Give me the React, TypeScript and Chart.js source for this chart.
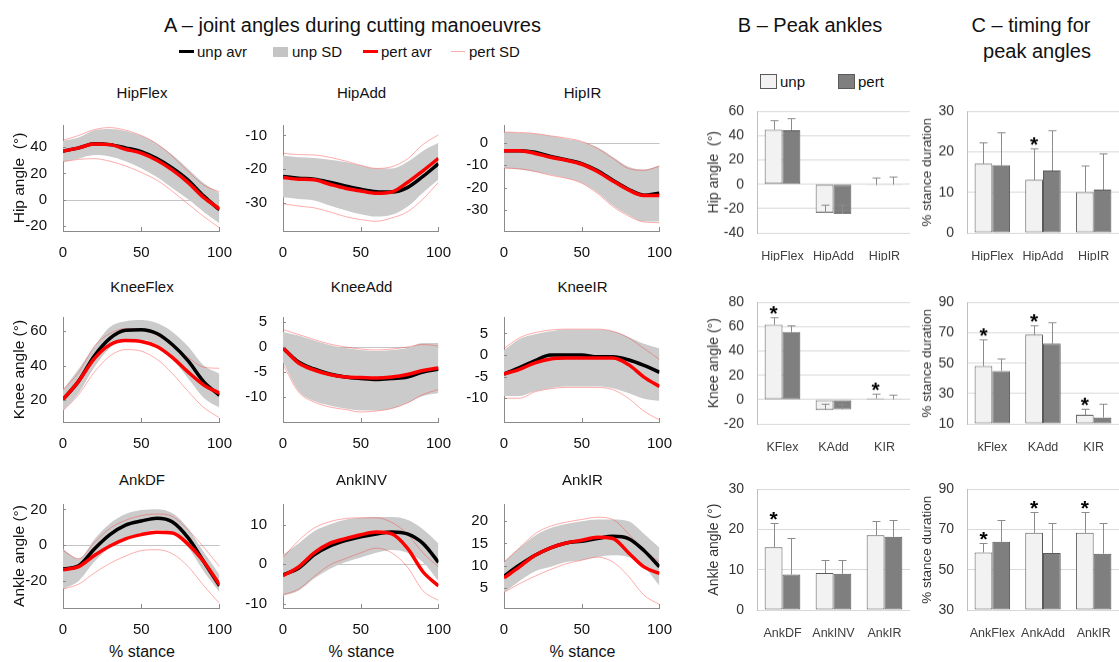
import React, { useEffect, useRef } from 'react';
import { Chart, registerables } from 'chart.js';
Chart.register(...registerables);

const FONT = "'Liberation Sans', Arial, Helvetica, sans-serif";

// ---------------- Panel A data (joint angle curves, % stance) ----------------
const STANCE = [0, 10, 20, 30, 40, 50, 60, 70, 80, 90, 100];
const STANCE_TICKS = [0, 50, 100];

const HIPFLEX_UNP = [37, 39.5, 42.7, 42, 39.5, 36.6, 31.3, 24, 14.8, 2.7, -7.8];
const HIPFLEX_UNP_HI = [45, 47.5, 53, 54, 52.4, 48.7, 42.7, 34, 23.3, 12.4, 5];
const HIPFLEX_UNP_LO = [29, 31.3, 34, 33, 29.3, 24, 17.2, 8.7, 0.2, -9.5, -18];
const HIPFLEX_PERT = [37, 39.5, 42.5, 42, 38.5, 35.5, 30, 22.5, 13, 1.5, -7];
const HIPFLEX_PERT_HI = [45.3, 49, 53.5, 55, 53, 49, 42.7, 33, 21.5, 11, 6];
const HIPFLEX_PERT_LO = [29, 30.7, 31.3, 29.3, 25.7, 20.8, 14.8, 6.3, -3.4, -13, -21.6];
const HIPFLEX_TICKS = [-20, 0, 20, 40];

const HIPADD_UNP = [-22.2, -22.7, -23, -23.9, -25, -26, -26.7, -26.8, -25.5, -22.2, -18.4];
const HIPADD_UNP_HI = [-16, -16.5, -16.7, -17.2, -17.9, -18.9, -19.8, -19.8, -17.9, -14.6, -12.2];
const HIPADD_UNP_LO = [-28.4, -28.9, -29.3, -30.8, -32.2, -33.4, -34.1, -33.6, -31.2, -27, -23.1];
const HIPADD_PERT = [-22.5, -23, -23.2, -24.5, -25.7, -26.5, -27.2, -26.8, -24, -20.5, -16.8];
const HIPADD_PERT_HI = [-15.3, -15.7, -15.8, -16.5, -17.6, -18.9, -19.8, -19.3, -17, -12.7, -9.8];
const HIPADD_PERT_LO = [-30.3, -31, -31.5, -32.7, -34.1, -35, -35.5, -34.5, -32.7, -28.9, -23.9];
const HIPADD_TICKS = [-30, -20, -10];

const HIPIR_UNP = [-3.6, -3.6, -4.3, -6.1, -7.6, -9.3, -12.4, -16.7, -20.7, -23.3, -22.4];
const HIPIR_UNP_HI = [4.6, 4.3, 3.9, 2.9, 1.7, 0.4, -2.1, -6.4, -10.7, -11.9, -10];
const HIPIR_UNP_LO = [-11.4, -11.9, -12.9, -14.3, -15.7, -17.9, -22.1, -27.9, -32.1, -35, -35];
const HIPIR_PERT = [-3.6, -3.6, -4.8, -6.5, -7.8, -9.6, -12.8, -17, -21, -23.5, -23.5];
const HIPIR_PERT_HI = [4.6, 4.5, 4, 3, 2, 0.5, -2.5, -7, -11.5, -12.3, -10.5];
const HIPIR_PERT_LO = [-11.3, -11.6, -12.8, -14.5, -15.8, -18, -22.5, -28.3, -32.5, -35.2, -35.5];
const HIPIR_TICKS = [-30, -20, -10, 0];

const KNEEFLEX_UNP = [20.4, 31, 45.5, 55.7, 60.4, 60.7, 58.5, 52, 42.7, 30.6, 22.8];
const KNEEFLEX_UNP_HI = [26, 38, 51, 62.2, 65.6, 66.3, 64.5, 59.4, 51, 40, 35.3];
const KNEEFLEX_UNP_LO = [13.9, 24, 39, 50.1, 54.8, 54.8, 52, 43.6, 32.5, 21.3, 15.7];
const KNEEFLEX_PERT = [20.4, 31, 44, 52, 54.4, 53.9, 51, 44.6, 36.2, 28.7, 24];
const KNEEFLEX_PERT_HI = [26, 36, 51, 58.5, 61.3, 60.4, 57.6, 51, 44.6, 39, 38.4];
const KNEEFLEX_PERT_LO = [13.9, 23.2, 36.2, 45.5, 49.2, 48.3, 43.6, 35.3, 25, 15.7, 9.8];
const KNEEFLEX_TICKS = [20, 40, 60];

const KNEEADD_UNP = [-0.2, -3, -4.4, -5.4, -6, -6.3, -6.5, -6.3, -6, -5, -4.4];
const KNEEADD_UNP_HI = [3, 2.3, 1.3, 0.4, -0.2, -0.6, -0.8, -0.6, -0.2, 0.8, 0.8];
const KNEEADD_UNP_LO = [-3, -8.8, -10.8, -11.7, -12.3, -12.7, -12.7, -12.3, -11.2, -9.8, -9.2];
const KNEEADD_PERT = [-0.2, -3.2, -4.6, -5.5, -6, -6.1, -6.2, -6, -5.5, -4.7, -4.2];
const KNEEADD_PERT_HI = [3.5, 2.5, 1.5, 0.6, 0, -0.4, -0.6, -0.4, 0, 0.5, 0.2];
const KNEEADD_PERT_LO = [-3.5, -9, -11, -12, -12.5, -13, -12.8, -12.3, -11.2, -9.5, -8.5];
const KNEEADD_TICKS = [-10, -5, 0, 5];

const KNEEIR_UNP = [-4.4, -2.9, -1.3, 0, 0, 0, -0.4, -0.4, -1.1, -2.4, -4];
const KNEEIR_UNP_HI = [1.1, 3.7, 4.8, 5.5, 5.9, 5.9, 5.9, 5.5, 4.2, 2.6, 1.5];
const KNEEIR_UNP_LO = [-9.5, -9.5, -8.4, -7.7, -7.3, -7.3, -7.3, -7.7, -8.8, -10.1, -10.6];
const KNEEIR_PERT = [-4.4, -3.3, -1.8, -0.9, -0.7, -0.7, -0.7, -0.7, -2.2, -5.1, -7.3];
const KNEEIR_PERT_HI = [1.5, 4, 5.2, 5.8, 6, 6, 6, 5.5, 4, 1.5, -1];
const KNEEIR_PERT_LO = [-10, -10, -8.5, -7.8, -7.5, -7.5, -7.5, -8, -10, -13, -15];
const KNEEIR_TICKS = [-10, -5, 0, 5];

const ANKDF_UNP = [-13.2, -11.5, -2.1, 5.9, 11.2, 13.5, 15.1, 13, 4.1, -9.2, -22.6];
const ANKDF_UNP_HI = [-2.1, -7.5, 3.2, 12.1, 17.4, 19.6, 20.1, 17.8, 9.4, -3.9, -16.4];
const ANKDF_UNP_LO = [-24.4, -19.9, -9.2, -1.2, 4.1, 6.8, 8.5, 6.8, -1.2, -14.6, -26.1];
const ANKDF_PERT = [-13.7, -11.9, -5.7, -0.4, 3.6, 5.9, 7.3, 6.8, 0.5, -9.2, -22];
const ANKDF_PERT_HI = [-3, -7.5, 1.4, 9.4, 13.9, 16.5, 17.4, 16, 8.5, -1.2, -11.9];
const ANKDF_PERT_LO = [-24.4, -21.7, -15.5, -10.1, -6, -3, -2.5, -4.8, -11.9, -22.6, -32.4];
const ANKDF_TICKS = [-20, 0, 20];

const ANKINV_UNP = [-2.7, -1, 2.4, 4.6, 6, 7, 7.7, 8.2, 7.7, 5.3, 0.5];
const ANKINV_UNP_HI = [2.4, 5.3, 8.4, 10.1, 11.3, 11.8, 12, 12, 11.3, 8.9, 5.3];
const ANKINV_UNP_LO = [-8, -6.7, -3.6, -1.2, 0.5, 1.7, 2.9, 3.6, 2.9, 0.5, -4.3];
const ANKINV_PERT = [-2.9, -0.7, 2.9, 5.3, 6.5, 7.5, 8.2, 7.7, 4.1, -1.9, -5.5];
const ANKINV_PERT_HI = [1.7, 6, 9.2, 10.8, 11.6, 11.8, 11.8, 10.6, 7.7, 2.9, -0.7];
const ANKINV_PERT_LO = [-7.7, -6.3, -3.1, -0.2, 1.4, 2.9, 4.1, 2.9, -0.7, -6.7, -9.2];
const ANKINV_TICKS = [-10, 0, 10];

const ANKIR_UNP = [7.6, 10.1, 12.3, 14, 15.1, 15.5, 16.1, 16.6, 16.1, 13.4, 9.7];
const ANKIR_UNP_HI = [10.8, 14, 16.8, 18.5, 19.4, 20, 20.4, 20.4, 20, 17.2, 14];
const ANKIR_UNP_LO = [3.9, 6.5, 8.7, 9.7, 10.8, 11.2, 11.9, 12.3, 11.9, 9.7, 5.4];
const ANKIR_PERT = [7.2, 9.7, 12.3, 14, 15.1, 15.7, 16.4, 16.1, 12.9, 9.7, 8.2];
const ANKIR_PERT_HI = [10.8, 14, 17.2, 18.9, 19.8, 20.4, 20.9, 20.4, 17.2, 13.4, 10.8];
const ANKIR_PERT_LO = [3.9, 5.9, 7.6, 9.1, 10.4, 11.2, 11.9, 10.8, 7.6, 3.3, 1.2];
const ANKIR_TICKS = [5, 10, 15, 20];

// ---------------- Panel B data (peak angles, deg) ----------------
const B_HIP_CATS = ['HipFlex', 'HipAdd', 'HipIR'];
const B_HIP_UNP = [45, -23.4, -0.6];
const B_HIP_UNP_SD = [7.6, 6.6, 6.6];
const B_HIP_PERT = [44.5, -24.2, -0.3];
const B_HIP_PERT_SD = [9.7, 7.4, 7];
const B_HIP_SIG = [0, 0, 0];
const B_HIP_TICKS = [-40, -20, 0, 20, 40, 60];

const B_KNEE_CATS = ['KFlex', 'KAdd', 'KIR'];
const B_KNEE_UNP = [61.7, -8.5, 1];
const B_KNEE_UNP_SD = [6, 4.7, 4.2];
const B_KNEE_PERT = [55.7, -8, 0.2];
const B_KNEE_PERT_SD = [5.2, 4.2, 3.9];
const B_KNEE_SIG = [1, 0, 1];
const B_KNEE_TICKS = [-20, 0, 20, 40, 60, 80];

const B_ANK_CATS = ['AnkDF', 'AnkINV', 'AnkIR'];
const B_ANK_UNP = [15.6, 9.2, 18.6];
const B_ANK_UNP_SD = [6.1, 3.3, 3.5];
const B_ANK_PERT = [8.8, 9, 18.2];
const B_ANK_PERT_SD = [9.2, 3.5, 4.1];
const B_ANK_SIG = [1, 0, 0];
const B_ANK_TICKS = [0, 10, 20, 30];

// ---------------- Panel C data (timing, % stance duration) ----------------
const C_HIP_CATS = ['HipFlex', 'HipAdd', 'HipIR'];
const C_HIP_UNP = [17.1, 13.1, 10.1];
const C_HIP_UNP_SD = [5.3, 7.7, 6.6];
const C_HIP_PERT = [16.7, 15.4, 10.7];
const C_HIP_PERT_SD = [8.1, 9.9, 8.9];
const C_HIP_SIG = [0, 1, 0];
const C_HIP_TICKS = [0, 10, 20, 30];

const C_KNEE_CATS = ['kFlex', 'KAdd', 'KIR'];
const C_KNEE_UNP = [48.1, 68.8, 15.9];
const C_KNEE_UNP_SD = [17.6, 6, 4.3];
const C_KNEE_PERT = [44.9, 62.9, 14.2];
const C_KNEE_PERT_SD = [8.3, 14, 9.1];
const C_KNEE_SIG = [1, 1, 1];
const C_KNEE_TICKS = [10, 30, 50, 70, 90];

const C_ANK_CATS = ['AnkFlex', 'AnkAdd', 'AnkIR'];
const C_ANK_UNP = [58.6, 68.4, 68.4];
const C_ANK_UNP_SD = [4.8, 10.6, 10.6];
const C_ANK_PERT = [63.9, 58.3, 58];
const C_ANK_PERT_SD = [10.7, 15.2, 15.4];
const C_ANK_SIG = [1, 1, 1];
const C_ANK_TICKS = [30, 50, 70, 90];

// ---------------- panel definitions ----------------
type LinePanel = {
  name: string; unp: number[]; unpHi: number[]; unpLo: number[];
  pert: number[]; pertHi: number[]; pertLo: number[];
  yMin: number; yMax: number; ticks: number[]; yTitle?: string;
};

const LINE_PANELS: LinePanel[][] = [
  [
    { name: 'HipFlex', unp: HIPFLEX_UNP, unpHi: HIPFLEX_UNP_HI, unpLo: HIPFLEX_UNP_LO, pert: HIPFLEX_PERT, pertHi: HIPFLEX_PERT_HI, pertLo: HIPFLEX_PERT_LO, yMin: -24, yMax: 57, ticks: HIPFLEX_TICKS, yTitle: 'Hip angle  (°)' },
    { name: 'HipAdd', unp: HIPADD_UNP, unpHi: HIPADD_UNP_HI, unpLo: HIPADD_UNP_LO, pert: HIPADD_PERT, pertHi: HIPADD_PERT_HI, pertLo: HIPADD_PERT_LO, yMin: -38.4, yMax: -6.9, ticks: HIPADD_TICKS },
    { name: 'HipIR', unp: HIPIR_UNP, unpHi: HIPIR_UNP_HI, unpLo: HIPIR_UNP_LO, pert: HIPIR_PERT, pertHi: HIPIR_PERT_HI, pertLo: HIPIR_PERT_LO, yMin: -39.2, yMax: 7.8, ticks: HIPIR_TICKS },
  ],
  [
    { name: 'KneeFlex', unp: KNEEFLEX_UNP, unpHi: KNEEFLEX_UNP_HI, unpLo: KNEEFLEX_UNP_LO, pert: KNEEFLEX_PERT, pertHi: KNEEFLEX_PERT_HI, pertLo: KNEEFLEX_PERT_LO, yMin: 7.4, yMax: 68, ticks: KNEEFLEX_TICKS, yTitle: 'Knee angle (°)' },
    { name: 'KneeAdd', unp: KNEEADD_UNP, unpHi: KNEEADD_UNP_HI, unpLo: KNEEADD_UNP_LO, pert: KNEEADD_PERT, pertHi: KNEEADD_PERT_HI, pertLo: KNEEADD_PERT_LO, yMin: -15, yMax: 6, ticks: KNEEADD_TICKS },
    { name: 'KneeIR', unp: KNEEIR_UNP, unpHi: KNEEIR_UNP_HI, unpLo: KNEEIR_UNP_LO, pert: KNEEIR_PERT, pertHi: KNEEIR_PERT_HI, pertLo: KNEEIR_PERT_LO, yMin: -15.5, yMax: 8.8, ticks: KNEEIR_TICKS },
  ],
  [
    { name: 'AnkDF', unp: ANKDF_UNP, unpHi: ANKDF_UNP_HI, unpLo: ANKDF_UNP_LO, pert: ANKDF_PERT, pertHi: ANKDF_PERT_HI, pertLo: ANKDF_PERT_LO, yMin: -35, yMax: 23, ticks: ANKDF_TICKS, yTitle: 'Ankle angle (°)' },
    { name: 'AnkINV', unp: ANKINV_UNP, unpHi: ANKINV_UNP_HI, unpLo: ANKINV_UNP_LO, pert: ANKINV_PERT, pertHi: ANKINV_PERT_HI, pertLo: ANKINV_PERT_LO, yMin: -11.1, yMax: 15.3, ticks: ANKINV_TICKS },
    { name: 'AnkIR', unp: ANKIR_UNP, unpHi: ANKIR_UNP_HI, unpLo: ANKIR_UNP_LO, pert: ANKIR_PERT, pertHi: ANKIR_PERT_HI, pertLo: ANKIR_PERT_LO, yMin: 0.4, yMax: 23.9, ticks: ANKIR_TICKS },
  ],
];

type BarPanel = {
  cats: string[]; unp: number[]; unpSd: number[]; pert: number[]; pertSd: number[];
  sig: number[]; ticks: number[]; yTitle: string; base: number;
};

const B_PANELS: BarPanel[] = [
  { cats: B_HIP_CATS, unp: B_HIP_UNP, unpSd: B_HIP_UNP_SD, pert: B_HIP_PERT, pertSd: B_HIP_PERT_SD, sig: B_HIP_SIG, ticks: B_HIP_TICKS, yTitle: 'Hip angle  (°)', base: 0 },
  { cats: B_KNEE_CATS, unp: B_KNEE_UNP, unpSd: B_KNEE_UNP_SD, pert: B_KNEE_PERT, pertSd: B_KNEE_PERT_SD, sig: B_KNEE_SIG, ticks: B_KNEE_TICKS, yTitle: 'Knee angle (°)', base: 0 },
  { cats: B_ANK_CATS, unp: B_ANK_UNP, unpSd: B_ANK_UNP_SD, pert: B_ANK_PERT, pertSd: B_ANK_PERT_SD, sig: B_ANK_SIG, ticks: B_ANK_TICKS, yTitle: 'Ankle angle (°)', base: 0 },
];
const C_PANELS: BarPanel[] = [
  { cats: C_HIP_CATS, unp: C_HIP_UNP, unpSd: C_HIP_UNP_SD, pert: C_HIP_PERT, pertSd: C_HIP_PERT_SD, sig: C_HIP_SIG, ticks: C_HIP_TICKS, yTitle: '% stance duration', base: C_HIP_TICKS[0] },
  { cats: C_KNEE_CATS, unp: C_KNEE_UNP, unpSd: C_KNEE_UNP_SD, pert: C_KNEE_PERT, pertSd: C_KNEE_PERT_SD, sig: C_KNEE_SIG, ticks: C_KNEE_TICKS, yTitle: '% stance duration', base: C_KNEE_TICKS[0] },
  { cats: C_ANK_CATS, unp: C_ANK_UNP, unpSd: C_ANK_UNP_SD, pert: C_ANK_PERT, pertSd: C_ANK_PERT_SD, sig: C_ANK_SIG, ticks: C_ANK_TICKS, yTitle: '% stance duration', base: C_ANK_TICKS[0] },
];

// ---------------- layout ----------------
const LINE_CANVAS_LEFT = [0, 232, 452];
const LINE_PLOT_LEFT = [63, 283, 504];
const LINE_PLOT_W = [158, 157, 157];
const LINE_PLOT_TOP = [120, 312, 499];
const LINE_PLOT_H = [111, 110, 109];
const LINE_TITLE_CY = [93, 287, 479.5];

const BAR_PLOT_TOP = [106, 297, 483.5];
const BAR_PLOT_BOTTOM = [232.5, 423.5, 609.5];

const UNP_FILL = '#f2f2f2';
const PERT_FILL = '#7f7f7f';

const lineDecor = {
  id: 'lineDecor',
  beforeDatasetsDraw(chart: any) {
    const { ctx, chartArea: a, scales } = chart;
    const y = scales.y;
    if (y.min < 0 && y.max > 0) {
      const py = Math.round(y.getPixelForValue(0)) + 0.5;
      ctx.save();
      ctx.strokeStyle = '#c4c4c4';
      ctx.lineWidth = 1;
      ctx.beginPath();
      ctx.moveTo(a.left, py);
      ctx.lineTo(a.right, py);
      ctx.stroke();
      ctx.restore();
    }
  },
  afterDraw(chart: any) {
    const { ctx, chartArea: a, scales } = chart;
    const { x, y } = scales;
    ctx.save();
    ctx.strokeStyle = '#8a8a8a';
    ctx.lineWidth = 1;
    ctx.beginPath();
    x.ticks.forEach((t: any) => {
      const px = Math.round(x.getPixelForValue(t.value)) + 0.5;
      ctx.moveTo(px, a.bottom);
      ctx.lineTo(px, a.bottom - 4);
    });
    y.ticks.forEach((t: any) => {
      const py = Math.round(y.getPixelForValue(t.value)) + 0.5;
      ctx.moveTo(a.left, py);
      ctx.lineTo(a.left + 3, py);
    });
    ctx.stroke();
    ctx.restore();
  },
};

function LineChart({ panel, row, col }: { panel: LinePanel; row: number; col: number }) {
  const ref = useRef<HTMLCanvasElement>(null);
  const cl = LINE_CANVAS_LEFT[col];
  const pl = LINE_PLOT_LEFT[col];
  const pw = LINE_PLOT_W[col];
  const pt = LINE_PLOT_TOP[row];
  const ph = LINE_PLOT_H[row];
  const ct = pt - 12;
  const cr = pl + pw + 16;
  const cb = pt + ph + 28;
  const W = cr - cl;
  const H = cb - ct;
  useEffect(() => {
    const pts = (a: number[]) => STANCE.map((x, i) => ({ x, y: a[i] }));
    const pink = 'rgba(255,70,70,0.45)';
    const titleSize = 15.5;
    const chart = new Chart(ref.current as HTMLCanvasElement, {
      type: 'line',
      data: {
        datasets: [
          { data: pts(panel.pert), borderColor: '#ff0000', borderWidth: 3.5, order: 0 },
          { data: pts(panel.unp), borderColor: '#000000', borderWidth: 3.5, order: 1 },
          { data: pts(panel.pertHi), borderColor: pink, borderWidth: 1, order: 2 },
          { data: pts(panel.pertLo), borderColor: pink, borderWidth: 1, order: 3 },
          { data: pts(panel.unpHi), borderColor: 'rgba(0,0,0,0)', borderWidth: 0, backgroundColor: '#cbcbcb', fill: '+1', order: 4 },
          { data: pts(panel.unpLo), borderColor: 'rgba(0,0,0,0)', borderWidth: 0, order: 5 },
        ] as any,
      },
      options: {
        responsive: false,
        animation: false,
        events: [],
        layout: { padding: { left: 0, top: pt - ct, right: cr - (pl + pw), bottom: 0 } },
        elements: { point: { radius: 0 }, line: { cubicInterpolationMode: 'monotone', fill: false } as any },
        plugins: { legend: { display: false }, tooltip: { enabled: false } },
        scales: {
          x: {
            type: 'linear', min: 0, max: 100,
            afterBuildTicks: (s: any) => { s.ticks = STANCE_TICKS.map((v) => ({ value: v })); },
            grid: { display: false },
            border: { display: true, color: '#8a8a8a' },
            ticks: { font: { family: FONT, size: 15 }, color: '#111', padding: 5, maxRotation: 0 },
            afterFit: (s: any) => { s.height = cb - (pt + ph); },
          },
          y: {
            type: 'linear', min: panel.yMin, max: panel.yMax,
            afterBuildTicks: (s: any) => { s.ticks = panel.ticks.map((v) => ({ value: v })); },
            grid: { display: false },
            border: { display: true, color: '#8a8a8a' },
            ticks: { font: { family: FONT, size: 15 }, color: '#111', padding: 8 },
            title: panel.yTitle
              ? { display: true, text: panel.yTitle, font: { family: FONT, size: titleSize }, color: '#111', padding: { top: 19.5 - titleSize * 0.6, bottom: 0 } }
              : { display: false },
            afterFit: (s: any) => { s.width = pl - cl; },
          },
        },
      } as any,
      plugins: [lineDecor],
    });
    return () => chart.destroy();
  }, []);
  return (
    <canvas
      ref={ref}
      width={W}
      height={H}
      style={{ position: 'absolute', left: cl, top: ct, width: W, height: H }}
    />
  );
}

function makeErrPlugin(p: BarPanel) {
  return {
    id: 'errBars',
    afterDatasetsDraw(chart: any) {
      const { ctx, scales } = chart;
      const y = scales.y;
      const sets: [number[], number[]][] = [[p.unp, p.unpSd], [p.pert, p.pertSd]];
      ctx.save();
      sets.forEach(([vals, sds], di) => {
        const meta = chart.getDatasetMeta(di);
        meta.data.forEach((bar: any, j: number) => {
          const x = Math.round(bar.x) + 0.5;
          const y0 = y.getPixelForValue(vals[j]);
          const y1 = Math.round(y.getPixelForValue(vals[j] + sds[j])) + 0.5;
          ctx.strokeStyle = '#8c8c8c';
          ctx.lineWidth = 1;
          ctx.beginPath();
          ctx.moveTo(x, y0);
          ctx.lineTo(x, y1);
          ctx.moveTo(x - 4, y1);
          ctx.lineTo(x + 4, y1);
          ctx.stroke();
          if (di === 0 && p.sig[j]) {
            ctx.fillStyle = '#000';
            ctx.font = `bold 21px ${FONT}`;
            ctx.textAlign = 'center';
            ctx.textBaseline = 'alphabetic';
            ctx.fillText('*', bar.x, y1 + 2);
          }
        });
      });
      ctx.restore();
    },
  };
}

function BarChart({ panel, row, which }: { panel: BarPanel; row: number; which: 'B' | 'C' }) {
  const ref = useRef<HTMLCanvasElement>(null);
  const cl = which === 'B' ? 690 : 900;
  const pl = which === 'B' ? 757 : 967;
  const pr = which === 'B' ? 910 : 1120;
  const cr = which === 'B' ? 914 : 1119;
  const titleCx = which === 'B' ? 714 : 927;
  const titleSize = which === 'B' ? 14 : 13.5;
  const pt = BAR_PLOT_TOP[row];
  const pb = BAR_PLOT_BOTTOM[row];
  const ct = pt - 16;
  const cb = pb + 28;
  const W = cr - cl;
  const H = cb - ct;
  useEffect(() => {
    const ticks = panel.ticks;
    const chart = new Chart(ref.current as HTMLCanvasElement, {
      type: 'bar',
      data: {
        labels: panel.cats,
        datasets: [
          { label: 'unp', data: panel.unp, backgroundColor: UNP_FILL, borderColor: '#5a5a5a', borderWidth: 1, borderSkipped: false, base: panel.base },
          { label: 'pert', data: panel.pert, backgroundColor: PERT_FILL, borderColor: '#5a5a5a', borderWidth: 1, borderSkipped: false, base: panel.base },
        ] as any,
      },
      options: {
        responsive: false,
        animation: false,
        events: [],
        layout: { padding: { left: 0, top: pt - ct, right: Math.max(0, cr - pr), bottom: 0 } },
        datasets: { bar: { categoryPercentage: 0.7, barPercentage: 1 } },
        plugins: { legend: { display: false }, tooltip: { enabled: false } },
        scales: {
          x: {
            grid: { display: false },
            border: { display: false },
            ticks: { font: { family: FONT, size: 12.5 }, color: '#404040', padding: 8, maxRotation: 0, autoSkip: false },
            afterFit: (s: any) => { s.height = cb - pb; },
          },
          y: {
            min: ticks[0], max: ticks[ticks.length - 1],
            afterBuildTicks: (s: any) => { s.ticks = ticks.map((v) => ({ value: v })); },
            grid: { color: '#d9d9d9', drawTicks: false },
            border: { display: true, color: '#bfbfbf' },
            ticks: { font: { family: FONT, size: 14 }, color: '#333', padding: 13 },
            title: { display: true, text: panel.yTitle, font: { family: FONT, size: titleSize }, color: '#333', padding: { top: titleCx - cl - titleSize * 0.6, bottom: 0 } },
            afterFit: (s: any) => { s.width = pl - cl; },
          },
        },
      } as any,
      plugins: [makeErrPlugin(panel)],
    });
    return () => chart.destroy();
  }, []);
  return (
    <canvas
      ref={ref}
      width={W}
      height={H}
      style={{ position: 'absolute', left: cl, top: ct, width: W, height: H }}
    />
  );
}

function Txt({ cx, cy, size, children, color = '#111' }: { cx: number; cy: number; size: number; children: React.ReactNode; color?: string }) {
  return (
    <div
      style={{
        position: 'absolute', left: cx - 250, width: 500, top: cy - size * 0.5885,
        fontSize: size, lineHeight: `${size * 1.2}px`, textAlign: 'center', whiteSpace: 'pre',
        color, fontFamily: FONT,
      }}
    >
      {children}
    </div>
  );
}

function LTxt({ x, cy, size, children }: { x: number; cy: number; size: number; children: React.ReactNode }) {
  return (
    <div
      style={{
        position: 'absolute', left: x, top: cy - size * 0.5885, fontSize: size,
        lineHeight: `${size * 1.2}px`, whiteSpace: 'pre', color: '#111', fontFamily: FONT,
      }}
    >
      {children}
    </div>
  );
}

function Box({ x, y, w, h, bg, border }: { x: number; y: number; w: number; h: number; bg: string; border?: string }) {
  return (
    <div style={{ position: 'absolute', left: x, top: y, width: w, height: h, background: bg, border: border || 'none', boxSizing: 'border-box' }} />
  );
}

export default function App() {
  const colCenters = LINE_PLOT_LEFT.map((l, i) => l + LINE_PLOT_W[i] / 2);
  return (
    <div style={{ position: 'absolute', left: 0, top: 0, width: 1119, height: 662, background: '#fff', overflow: 'hidden', fontFamily: FONT }}>
      <Txt cx={352.5} cy={24.5} size={20}>A – joint angles during cutting manoeuvres</Txt>
      <Txt cx={810} cy={24.5} size={20}>B – Peak ankles</Txt>
      <Txt cx={1031} cy={24.5} size={20}>C – timing for</Txt>
      <Txt cx={1037} cy={51} size={20}>peak angles</Txt>

      {/* legend A */}
      <Box x={179} y={49.5} w={15} h={3.5} bg="#000" />
      <LTxt x={197} cy={52} size={15}>unp avr</LTxt>
      <Box x={273} y={46.5} w={15} h={10} bg="#c4c4c4" />
      <LTxt x={292} cy={52} size={15}>unp SD</LTxt>
      <Box x={363} y={49.5} w={15} h={3.5} bg="#ff0000" />
      <LTxt x={381} cy={52} size={15}>pert avr</LTxt>
      <Box x={451} y={51} w={14} h={1} bg="rgba(255,90,90,0.5)" />
      <LTxt x={469} cy={52} size={15}>pert SD</LTxt>

      {/* legend B */}
      <Box x={760} y={74} w={17} h={15} bg={UNP_FILL} border="1px solid #5a5a5a" />
      <LTxt x={780} cy={82} size={15}>unp</LTxt>
      <Box x={838} y={74} w={17} h={15} bg={PERT_FILL} border="1px solid #5a5a5a" />
      <LTxt x={858} cy={82} size={15}>pert</LTxt>

      {LINE_PANELS.map((rowPanels, r) =>
        rowPanels.map((p, c) => (
          <React.Fragment key={`${r}-${c}`}>
            <Txt cx={colCenters[c]} cy={LINE_TITLE_CY[r]} size={15}>{p.name}</Txt>
            <LineChart panel={p} row={r} col={c} />
          </React.Fragment>
        ))
      )}
      {colCenters.map((cx, i) => (
        <Txt key={`st${i}`} cx={cx} cy={651} size={16}>% stance</Txt>
      ))}

      {B_PANELS.map((p, r) => <BarChart key={`b${r}`} panel={p} row={r} which="B" />)}
      {C_PANELS.map((p, r) => <BarChart key={`c${r}`} panel={p} row={r} which="C" />)}
    </div>
  );
}
